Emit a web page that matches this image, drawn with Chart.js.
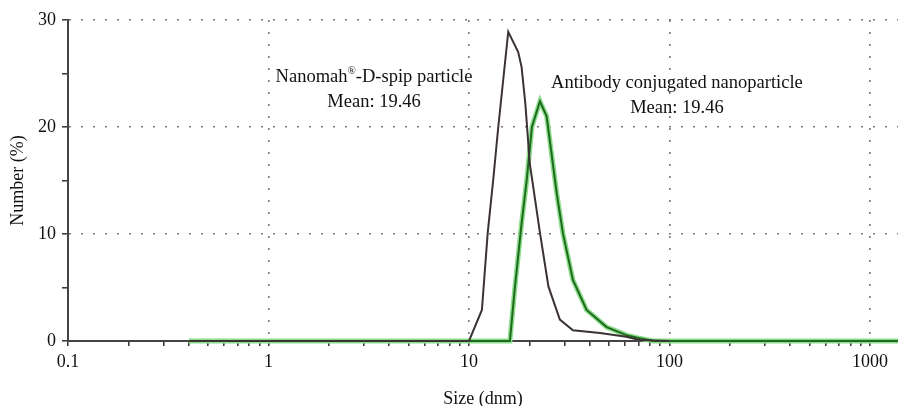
<!DOCTYPE html>
<html>
<head>
<meta charset="utf-8">
<script src="https://cdn.jsdelivr.net/npm/chart.js@4/dist/chart.umd.min.js"></script>
<style>
 body { margin: 0; background: #fff; }
 #wrap { width: 898px; height: 406px; }
</style>
</head>
<body>
<div id="wrap"><canvas id="sizeChart"></canvas></div>
<script>
// Nanomah-D-spip particle (black curve)
var plainSize   = [0.4, 10, 11.6, 12.4, 13.2, 14.0, 15.7, 17.6, 18.3, 19.1, 20.1, 22.6, 24.9, 28.4, 33, 45, 61, 71, 100];
var plainNumber = [0,   0,  2.9,  10.1, 15,   20,   28.9, 27,   25.6, 22.2, 16.6, 10.1, 5.1,  2.0,  1.0, 0.75, 0.4, 0.1, 0];

// Antibody conjugated nanoparticle (green curve)
var conjSize   = [0.4, 16, 16.9, 18.3, 19.4, 20.6, 22.6, 24.4, 27.4, 29.4, 33,  38.6, 48.6, 61,   71,   83, 1380];
var conjNumber = [0,   0,  4.8,  11,   15,   20,   22.4, 21,   13.8, 10.1, 5.7, 2.9,  1.3,  0.55, 0.25, 0,  0];

var xLabels = [0.1, 1, 10, 100, 1000];
var yLabels = [0, 10, 20, 30];

var serif = "'Liberation Serif', 'DejaVu Serif', serif";

function toPoints(xs, ys) {
 return xs.map(function (x, i) {
  return { x: x, y: ys[i] };
 });
}

function isDecade(v) {
 var l = Math.log10(v);
 return Math.abs(l - Math.round(l)) < 1e-9;
}

// text notes on the plot, placed in data coordinates
var notesPlugin = {
 id: "notes",
 afterDatasetsDraw: function (chart) {
  var ctx = chart.ctx;
  var xs = chart.scales.x, ys = chart.scales.y;
  var big = "18.5px " + serif, small = "11px " + serif;
  ctx.save();
  ctx.fillStyle = "#111";
  ctx.textBaseline = "middle";

  // left note with a raised (R) mark
  var cx = xs.getPixelForValue(3.36), cy = ys.getPixelForValue(24.7);
  var a = "Nanomah", b = "\u00AE", c = "-D-spip particle";
  ctx.font = big;
  var wa = ctx.measureText(a).width, wc = ctx.measureText(c).width;
  ctx.font = small;
  var wb = ctx.measureText(b).width;
  var x0 = cx - (wa + wb + wc) / 2;
  ctx.textAlign = "left";
  ctx.font = big;
  ctx.fillText(a, x0, cy);
  ctx.font = small;
  ctx.fillText(b, x0 + wa, cy - 6);
  ctx.font = big;
  ctx.fillText(c, x0 + wa + wb, cy);
  ctx.textAlign = "center";
  ctx.fillText("Mean: 19.46", cx, ys.getPixelForValue(22.35));

  // right note
  var rx = xs.getPixelForValue(108.9);
  ctx.fillText("Antibody conjugated nanoparticle", rx, ys.getPixelForValue(24.1));
  ctx.fillText("Mean: 19.46", rx, ys.getPixelForValue(21.8));
  ctx.restore();
 },
};

var lineClip = { left: 0, top: 0, right: 0, bottom: 4 };

new Chart(document.getElementById("sizeChart"), {
 type: "line",
 data: {
  datasets: [
   {
    label: "Nanomah-D-spip particle",
    data: toPoints(plainSize, plainNumber),
    borderColor: "#3b3333",
    borderWidth: 2,
    pointRadius: 0,
    tension: 0,
    clip: lineClip,
    order: 1,
   },
   {
    label: "Antibody conjugated nanoparticle",
    data: toPoints(conjSize, conjNumber),
    borderColor: "#1e6b1e",
    borderWidth: 2,
    pointRadius: 0,
    tension: 0,
    clip: lineClip,
    order: 2,
   },
   {
    label: "conj halo",
    data: toPoints(conjSize, conjNumber),
    borderColor: "#8cdc8c",
    borderWidth: 5,
    pointRadius: 0,
    tension: 0,
    clip: lineClip,
    order: 3,
   },
  ],
 },
 options: {
  responsive: true,
  maintainAspectRatio: false,
  animation: false,
  layout: { padding: { top: 20, right: 0, left: 0, bottom: 0 } },
  plugins: {
   legend: { display: false },
   tooltip: { enabled: false },
  },
  scales: {
   x: {
    type: "logarithmic",
    min: 0.1,
    max: 1380,
    afterBuildTicks: function (scale) {
     var ticks = [];
     for (var d = -1; d <= 3; d++) {
      for (var m = 1; m <= 9; m++) {
       var v = m * Math.pow(10, d);
       if (v >= 0.1 && v <= 1380) ticks.push({ value: v });
      }
     }
     scale.ticks = ticks;
    },
    afterFit: function (scale) {
     scale.height = 65;
    },
    ticks: {
     autoSkip: false,
     maxRotation: 0,
     padding: 5,
     color: "#111",
     font: { family: serif, size: 18 },
     callback: function (value) {
      if (!isDecade(value)) return "";
      return xLabels.find(function (t) {
       return Math.abs(t - value) < 1e-9;
      }).toString();
     },
    },
    grid: {
     color: function (ctx) {
      var v = ctx.tick && ctx.tick.value;
      return v && isDecade(v) && v > 0.1 ? "#7a7a7a" : "rgba(0,0,0,0)";
     },
     lineWidth: 1.6,
     tickColor: "#333",
     tickWidth: 1.5,
     tickLength: 5,
    },
    border: { color: "#444", width: 2, dash: [2, 10] },
    title: {
     display: true,
     text: "Size (dnm)",
     color: "#111",
     font: { family: serif, size: 18, lineHeight: 0.8 },
     padding: { top: 0, bottom: 0 },
    },
   },
   y: {
    min: 0,
    max: 30,
    afterFit: function (scale) {
     scale.width = 68;
    },
    ticks: {
     stepSize: 5,
     padding: 6,
     color: "#111",
     font: { family: serif, size: 18 },
     callback: function (value) {
      return yLabels.indexOf(value) >= 0 ? String(value) : "";
     },
    },
    grid: {
     color: function (ctx) {
      var v = ctx.tick && ctx.tick.value;
      return v && yLabels.indexOf(v) >= 0 ? "#7a7a7a" : "rgba(0,0,0,0)";
     },
     lineWidth: 1.6,
     tickColor: "#333",
     tickWidth: 1.5,
     tickLength: 6,
    },
    border: { color: "#444", width: 2, dash: [2, 10] },
    title: {
     display: true,
     text: "Number (%)",
     color: "#111",
     font: { family: serif, size: 18 },
     padding: { top: 7, bottom: 0 },
    },
   },
  },
 },
 plugins: [notesPlugin],
});
</script>
</body>
</html>
